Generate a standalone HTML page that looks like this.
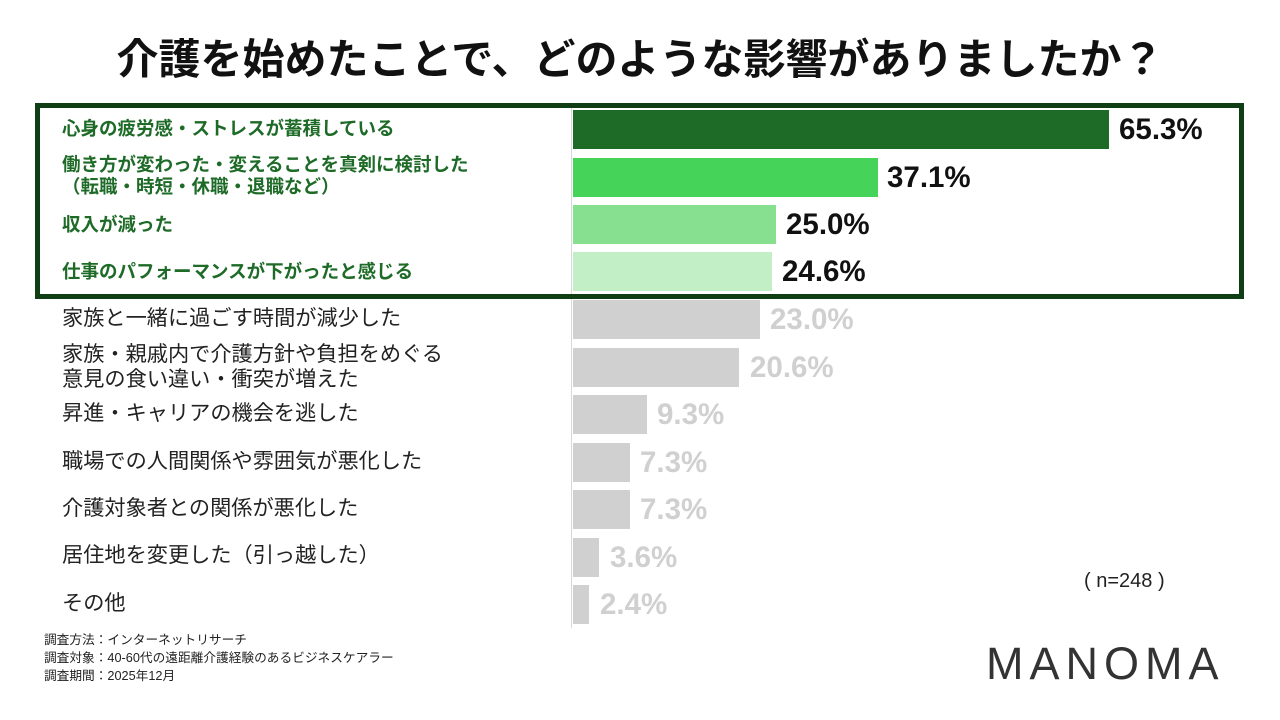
<!DOCTYPE html>
<html><head><meta charset="utf-8"><style>
body{margin:0;width:1280px;height:720px;background:#fff;position:relative;overflow:hidden;font-family:"Liberation Sans","Noto Sans CJK JP",sans-serif}
.t{position:absolute;left:0;width:1280px;top:26px;text-align:center;font-size:42px;font-weight:bold;color:#111}
.box{position:absolute;left:35px;top:103px;width:1199px;height:186px;border:5px solid #0f3d14}
.ax{position:absolute;left:571px;top:108px;width:1px;height:520px;background:#d8d8d8}
.bar{position:absolute;left:573px;height:39px}
.lab{position:absolute;left:62px;font-size:18.5px;color:#222;line-height:22px}
.n{font-size:21.2px;line-height:25px}
.g{color:#1e6b28;font-weight:bold}
.v{position:absolute;font-size:29.5px;font-weight:bold;line-height:39px}
.f{position:absolute;left:44px;font-size:12.7px;color:#222}
</style></head><body>
<div class="t">介護を始めたことで、どのような影響がありましたか？</div>
<div class="ax"></div>

<div class="bar" style="top:110px;width:536px;background:#1e6b28"></div>
<div class="v" style="top:110px;left:1119px;color:#111">65.3%</div>
<div class="lab g" style="top:118px">心身の疲労感・ストレスが蓄積している</div>

<div class="bar" style="top:158px;width:305px;background:#45d35a"></div>
<div class="v" style="top:158px;left:887px;color:#111">37.1%</div>
<div class="lab g" style="top:154px">働き方が変わった・変えることを真剣に検討した<br>（転職・時短・休職・退職など）</div>

<div class="bar" style="top:205px;width:203px;background:#86e08f"></div>
<div class="v" style="top:205px;left:786px;color:#111">25.0%</div>
<div class="lab g" style="top:214px">収入が減った</div>

<div class="bar" style="top:252px;width:199px;background:#c3efc6"></div>
<div class="v" style="top:252px;left:782px;color:#111">24.6%</div>
<div class="lab g" style="top:261px">仕事のパフォーマンスが下がったと感じる</div>

<div class="box"></div>

<div class="bar" style="top:300px;width:187px;background:#d0d0d0"></div>
<div class="v" style="top:300px;left:770px;color:#d0d0d0">23.0%</div>
<div class="lab n" style="top:306px">家族と一緒に過ごす時間が減少した</div>

<div class="bar" style="top:348px;width:166px;background:#d0d0d0"></div>
<div class="v" style="top:348px;left:750px;color:#d0d0d0">20.6%</div>
<div class="lab n" style="top:342px">家族・親戚内で介護方針や負担をめぐる<br>意見の食い違い・衝突が増えた</div>

<div class="bar" style="top:395px;width:74px;background:#d0d0d0"></div>
<div class="v" style="top:395px;left:657px;color:#d0d0d0">9.3%</div>
<div class="lab n" style="top:401px">昇進・キャリアの機会を逃した</div>

<div class="bar" style="top:443px;width:57px;background:#d0d0d0"></div>
<div class="v" style="top:443px;left:640px;color:#d0d0d0">7.3%</div>
<div class="lab n" style="top:449px">職場での人間関係や雰囲気が悪化した</div>

<div class="bar" style="top:490px;width:57px;background:#d0d0d0"></div>
<div class="v" style="top:490px;left:640px;color:#d0d0d0">7.3%</div>
<div class="lab n" style="top:496px">介護対象者との関係が悪化した</div>

<div class="bar" style="top:538px;width:26px;background:#d0d0d0"></div>
<div class="v" style="top:538px;left:610px;color:#d0d0d0">3.6%</div>
<div class="lab n" style="top:543px">居住地を変更した（引っ越した）</div>

<div class="bar" style="top:585px;width:16px;background:#d0d0d0"></div>
<div class="v" style="top:585px;left:600px;color:#d0d0d0">2.4%</div>
<div class="lab n" style="top:591px">その他</div>

<div style="position:absolute;left:1084px;top:570px;font-size:20px;color:#222;white-space:pre">( n=248 )</div>
<div class="f" style="top:629px">調査方法：インターネットリサーチ</div>
<div class="f" style="top:647px">調査対象：40-60代の遠距離介護経験のあるビジネスケアラー</div>
<div class="f" style="top:665px">調査期間：2025年12月</div>
<div style="position:absolute;left:986px;top:638px;font-size:45px;letter-spacing:6px;color:#333;font-weight:300">MANOMA</div>
</body></html>
